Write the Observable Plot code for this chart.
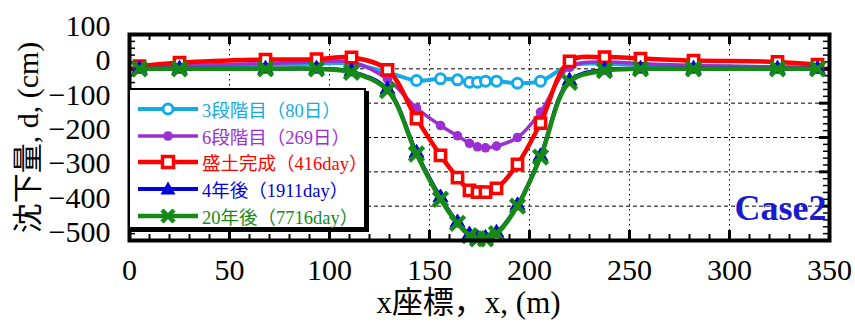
<!DOCTYPE html>
<html>
<head>
<meta charset="utf-8">
<script src="https://cdn.jsdelivr.net/npm/d3@7"></script>
<script src="https://cdn.jsdelivr.net/npm/@observablehq/plot@0.6"></script>
<style>
  html, body { margin: 0; padding: 0; background: white; }
  #wrap { position: relative; width: 855px; height: 326px; }
  #legend {
    position: absolute; left: 128px; top: 88px; width: 238px; height: 141px;
    background: white; border: 2px solid black; box-shadow: 3px 3px 0 black;
    font-family: 'Liberation Serif', 'Noto Sans CJK JP', serif; font-size: 18.5px;
    box-sizing: border-box; padding-top: 6px;
  }
  .row { display: flex; align-items: center; height: 26.6px; white-space: nowrap; }
  .row svg { margin-left: 8px; margin-right: 4px; flex: none; }
</style>
</head>
<body>
<div id="wrap"></div>
<script>
// ---- data ----
const xs = [5, 25, 68, 93.5, 111, 129, 143.5, 155.5, 164, 170, 174, 178, 183.5, 194, 205.5, 220, 237.5, 255.5, 282, 324, 344];
const stage3 = [5, 8, 12, 15, 15, -10, -34, -29, -32, -39, -39, -36, -36, -42, -36, 10, 15, 12, 8, 5, 3];
const stage6 = [5, 10, 15, 20, 20, -30, -114, -165, -195, -217, -227, -230, -225, -200, -126, 5, 20, 15, 10, 5, 3];
const fillDone = [8, 18, 27, 28, 33, -3, -145, -252, -317, -354, -359, -359, -348, -278, -158, 22, 34, 30, 24, 20, 12];
const year4 = [0, 0, 0, 0, -8, -60, -245, -375, -448, -483, -493, -493, -478, -398, -255, -35, -3, 0, 0, 0, 0];
const year20 = [0, 0, 0, 0, -10, -63, -248, -380, -450, -486, -495, -495, -480, -400, -257, -39, -5, 0, 0, 0, 0];
const seriesNames = ["3段階目（80日）", "6段階目（269日）", "盛土完成（416day）", "4年後（1911day）", "20年後（7716day）"];
const xTicks = [0, 50, 100, 150, 200, 250, 300, 350];
const yTicks = [100, 0, -100, -200, -300, -400, -500];
const groundEnds = [[0, 5], [344, 350]];

const colors = ["#14aae6", "#9b30d2", "#ff0000", "#0000dd", "#168a16"];
const allValues = [stage3, stage6, fillDone, year4, year20];
const tables = allValues.map(vals => xs.map((x, i) => ({x, y: vals[i]})));

const font = "'Liberation Serif', 'Noto Sans CJK JP', serif";

const marks = [
  Plot.gridX([50, 100, 150, 200, 250, 300], {stroke: "black", strokeOpacity: 1, strokeWidth: 1, strokeDasharray: "1.5,3.5"}),
  Plot.gridY([0, -100, -200, -300, -400], {stroke: "black", strokeOpacity: 1, strokeWidth: 1, strokeDasharray: "4,3"}),
  Plot.ruleY(groundEnds, {x1: d => d[0], x2: d => d[1], y: () => 0, stroke: "black", strokeWidth: 4}),
  // minor / major inward ticks
  Plot.tickX(d3.range(0, 351, 10), {x: d => d, stroke: "black", strokeWidth: 2, insetBottom: 200}),
  Plot.tickX(d3.range(0, 351, 10), {x: d => d, stroke: "black", strokeWidth: 2, insetTop: 200}),
  Plot.tickX(d3.range(0, 351, 50), {x: d => d, stroke: "black", strokeWidth: 3, insetBottom: 196}),
  Plot.tickX(d3.range(0, 351, 50), {x: d => d, stroke: "black", strokeWidth: 3, insetTop: 196}),
  Plot.tickY(d3.range(-500, 101, 20), {y: d => d, stroke: "black", strokeWidth: 1.5, insetRight: 694}),
  Plot.tickY(d3.range(-500, 101, 20), {y: d => d, stroke: "black", strokeWidth: 1.5, insetLeft: 694}),
  Plot.tickY(d3.range(-500, 101, 100), {y: d => d, stroke: "black", strokeWidth: 3, insetRight: 690}),
  Plot.tickY(d3.range(-500, 101, 100), {y: d => d, stroke: "black", strokeWidth: 3, insetLeft: 690}),
  // series
  Plot.line(tables[0], {x: "x", y: "y", stroke: colors[0], strokeWidth: 4, curve: "catmull-rom"}),
  Plot.dot(tables[0], {x: "x", y: "y", r: 5, fill: "white", stroke: colors[0], strokeWidth: 3}),
  Plot.line(tables[1], {x: "x", y: "y", stroke: colors[1], strokeWidth: 3.5, curve: "catmull-rom"}),
  Plot.dot(tables[1], {x: "x", y: "y", r: 4.8, fill: colors[1], stroke: "none"}),
  Plot.line(tables[2], {x: "x", y: "y", stroke: colors[2], strokeWidth: 4.5, curve: "catmull-rom"}),
  Plot.dot(tables[2], {x: "x", y: "y", r: 5.8, symbol: "square", fill: "white", stroke: colors[2], strokeWidth: 3.5}),
  Plot.line(tables[3], {x: "x", y: "y", stroke: colors[3], strokeWidth: 4, curve: "catmull-rom"}),
  Plot.dot(tables[3], {x: "x", y: "y", r: 5.5, symbol: "triangle", fill: colors[3], stroke: colors[3], strokeWidth: 1}),
  Plot.line(tables[4], {x: "x", y: "y", stroke: colors[4], strokeWidth: 4.5, curve: "catmull-rom"}),
  Plot.dot(tables[4], {x: "x", y: "y", r: 6.5, symbol: "times", stroke: colors[4], strokeWidth: 4.5}),
  Plot.frame({stroke: "black", strokeWidth: 4}),
  Plot.axisX(xTicks, {tickSize: 0, tickPadding: 18, fontSize: 30, fill: "black", label: null}),
  Plot.axisY(yTicks, {tickSize: 0, tickPadding: 19, fontSize: 30, fill: "black", dy: -8, label: null}),
  Plot.text(["沈下量, d, (cm)"], {frameAnchor: "left", dx: -101, rotate: -90, textAnchor: "middle", lineAnchor: "middle", fontSize: 30, fill: "black"}),
  Plot.text(["x座標，x, (m)"], {frameAnchor: "bottom", dx: -11, dy: 63, textAnchor: "middle", lineAnchor: "middle", fontSize: 31, fill: "black"}),
  Plot.text(["Case2"], {frameAnchor: "bottom-right", dx: -3, dy: -32, textAnchor: "end", lineAnchor: "middle", fontSize: 36, fontWeight: "bold", fill: "#1b1bcc"})
];

const chart = Plot.plot({
  width: 855, height: 326,
  marginLeft: 129, marginRight: 26, marginTop: 34, marginBottom: 86,
  x: {domain: [0, 350], axis: null},
  y: {domain: [-500, 100], axis: null},
  style: {fontFamily: font, fontSize: "28px", background: "white", overflow: "visible"},
  marks
});
const wrap = document.getElementById("wrap");
wrap.appendChild(chart);

// ---- legend ----
const legend = document.createElement("div");
legend.id = "legend";
const ns = "http://www.w3.org/2000/svg";
const symbolFns = [
  c => `<circle cx="30" cy="10" r="5" fill="white" stroke="${c}" stroke-width="3"/>`,
  c => `<circle cx="30" cy="10" r="4.8" fill="${c}"/>`,
  c => `<rect x="24.5" y="4.5" width="11" height="11" fill="white" stroke="${c}" stroke-width="3.5"/>`,
  c => `<path d="M30,2.5 L37.5,15.5 L22.5,15.5 Z" fill="${c}"/>`,
  c => `<path d="M24,4 L36,16 M36,4 L24,16" stroke="${c}" stroke-width="4.5"/>`
];
const widths = [4, 3.5, 4.5, 4, 4.5];
seriesNames.forEach((name, i) => {
  const row = document.createElement("div");
  row.className = "row";
  row.innerHTML = `<svg width="60" height="20" xmlns="${ns}"><line x1="0" y1="10" x2="60" y2="10" stroke="${colors[i]}" stroke-width="${widths[i]}"/>${symbolFns[i](colors[i])}</svg><span style="color:${colors[i]}">${name}</span>`;
  legend.appendChild(row);
});
wrap.appendChild(legend);
</script>
</body>
</html>
